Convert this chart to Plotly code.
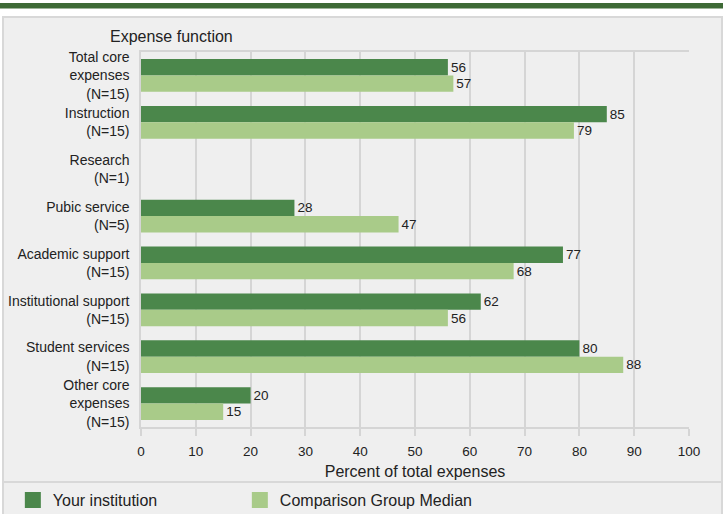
import plotly.graph_objects as go

categories = [
    "Total core<br>expenses<br>(N=15)",
    "Instruction<br>(N=15)",
    "Research<br>(N=1)",
    "Pubic service<br>(N=5)",
    "Academic support<br>(N=15)",
    "Institutional support<br>(N=15)",
    "Student services<br>(N=15)",
    "Other core<br>expenses<br>(N=15)",
]
your_institution = [56, 85, None, 28, 77, 62, 80, 20]
comparison_median = [57, 79, None, 47, 68, 56, 88, 15]
x_ticks = [0, 10, 20, 30, 40, 50, 60, 70, 80, 90, 100]

DARK = "#4b874b"
LIGHT = "#a9cb89"
BANNER = "#3e6a36"
PANEL = "#efefef"
GRID = "#d5d5d5"
FONT = "Arial, Liberation Sans, sans-serif"

W, H = 723, 514
L, R, T, B = 141, 34, 52, 87
PW, PH = W - L - R, H - T - B


def px_x(px):
    return (px - L) / PW


def px_y(py):
    return (H - B - py) / PH


fig = go.Figure()
fig.add_trace(go.Bar(
    y=categories, x=your_institution, orientation="h", name="Your institution",
    marker=dict(color=DARK, line=dict(width=0)),
    text=your_institution, texttemplate="%{x}", textposition="outside",
    textfont=dict(size=13.5, color="#222222", family=FONT),
    constraintext="none", cliponaxis=False, showlegend=False,
))
fig.add_trace(go.Bar(
    y=categories, x=comparison_median, orientation="h", name="Comparison Group Median",
    marker=dict(color=LIGHT, line=dict(width=0)),
    text=comparison_median, texttemplate="%{x}", textposition="outside",
    textfont=dict(size=13.5, color="#222222", family=FONT),
    constraintext="none", cliponaxis=False, showlegend=False,
))
# legend entries
fig.add_trace(go.Scatter(x=[None], y=[None], mode="markers", name="Your institution",
                         marker=dict(symbol="square", size=16, color=DARK),
                         showlegend=True, legend="legend"))
fig.add_trace(go.Scatter(x=[None], y=[None], mode="markers", name="Comparison Group Median",
                         marker=dict(symbol="square", size=16, color=LIGHT),
                         showlegend=True, legend="legend2"))

shapes = [
    # panel
    dict(type="rect", xref="paper", yref="paper", x0=px_x(3), x1=px_x(722), y0=px_y(517), y1=px_y(17),
         fillcolor=PANEL, line=dict(color="#d8d8d8", width=2), layer="below"),
    # separator above legend
    dict(type="line", xref="paper", yref="paper", x0=px_x(3), x1=px_x(722), y0=px_y(482), y1=px_y(482),
         line=dict(color="#d8d8d8", width=2), layer="below"),
    # top banner
    dict(type="rect", xref="paper", yref="paper", x0=px_x(0), x1=px_x(723), y0=px_y(8.5), y1=px_y(3),
         fillcolor=BANNER, line=dict(width=0), layer="below"),
]

legend_common = dict(orientation="h", xref="container", yref="container", y=0.027,
                     xanchor="left", yanchor="middle", bgcolor="rgba(0,0,0,0)",
                     font=dict(size=16))

fig.update_layout(
    width=W, height=H,
    margin=dict(l=L, r=R, t=T, b=B, autoexpand=False),
    paper_bgcolor="white", plot_bgcolor="rgba(0,0,0,0)",
    font=dict(family=FONT, size=13, color="#222222"),
    barmode="group", bargap=0.3, bargroupgap=0,
    shapes=shapes,
    xaxis=dict(range=[0, 100], tickvals=x_ticks, showgrid=True, gridcolor=GRID, gridwidth=1.5,
               zeroline=False, showline=True, linecolor=GRID, linewidth=1.5, mirror=True,
               ticks="outside", ticklen=7, tickcolor=GRID, tickwidth=1.5,
               ticklabelstandoff=4, tickfont=dict(size=13.5), fixedrange=True,
               title=dict(text="Percent of total expenses", font=dict(size=16), standoff=8)),
    yaxis=dict(categoryorder="array", categoryarray=categories, autorange="reversed",
               showgrid=False, zeroline=False, showline=True, linecolor=GRID, linewidth=1.5,
               ticks="", ticklabelstandoff=7, tickfont=dict(size=14), fixedrange=True),
    legend=dict(x=0.015 + 2 / W, **legend_common),
    legend2=dict(x=0.015 + 229 / W, **legend_common),
    annotations=[dict(text="Expense function", xref="paper", yref="paper",
                      x=px_x(171), y=px_y(36), xanchor="center", yanchor="middle",
                      showarrow=False, font=dict(size=16))],
)

fig.write_html("out.html", config={"displayModeBar": False},
               post_script="document.body.style.margin='0';document.body.style.padding='0';")
